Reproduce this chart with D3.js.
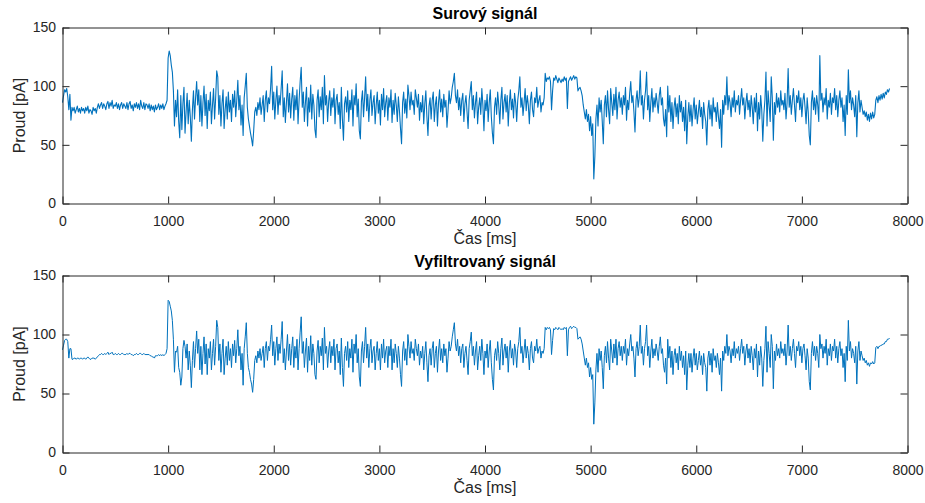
<!DOCTYPE html>
<html>
<head>
<meta charset="utf-8">
<script src="https://cdn.jsdelivr.net/npm/d3@7"></script>
<style>
  html, body { margin: 0; padding: 0; background: #fff; }
  svg { display: block; font-family: "Liberation Sans", Arial, Helvetica, sans-serif; }
</style>
</head>
<body>
<svg id="fig" width="925" height="503"></svg>
<script>
// Raw current trace, one sample every 10 ms
const rawStepMs = 10;
const rawSignal = [
  86, 92, 97, 95, 98, 91, 80, 93, 71, 82,
  79, 82, 77, 80, 83, 78, 81, 77, 82, 79,
  81, 77, 82, 79, 83, 77, 80, 79, 76, 82,
  79, 81, 77, 82, 85, 81, 84, 86, 81, 85,
  83, 80, 85, 87, 81, 86, 83, 88, 81, 84,
  83, 86, 81, 85, 80, 84, 86, 81, 85, 83,
  81, 86, 80, 85, 87, 81, 84, 79, 85, 82,
  86, 81, 85, 80, 88, 83, 81, 86, 80, 85,
  84, 81, 85, 79, 84, 80, 83, 78, 84, 80,
  82, 85, 80, 84, 81, 85, 80, 83, 85, 88,
  124, 130, 126, 118, 112, 96, 66, 88, 74, 97,
  70, 56, 92, 63, 85, 99, 60, 78, 94, 68,
  88, 74, 53, 80, 96, 72, 90, 104, 84, 97,
  70, 92, 66, 86, 100, 75, 93, 64, 88, 79,
  95, 68, 84, 98, 72, 90, 113, 108, 76, 92,
  66, 85, 97, 64, 80, 91, 72, 95, 78, 88,
  70, 93, 82, 96, 74, 88, 105, 80, 92, 67,
  84, 58, 90, 100, 111, 82, 72, 66, 60, 55,
  49, 62, 78, 82, 75, 86, 80, 90, 76, 84,
  92, 70, 88, 96, 78, 90, 85, 98, 117, 80,
  95, 72, 88, 100, 76, 92, 84, 98, 113, 74,
  90, 69, 86, 102, 78, 94, 73, 89, 99, 71,
  92, 80, 97, 68, 88, 104, 116, 82, 95, 70,
  86, 99, 66, 90, 78, 101, 72, 93, 84, 63,
  56, 88, 97, 74, 91, 80, 99, 68, 109, 84,
  92, 70, 87, 96, 75, 90, 82, 98, 68, 88,
  93, 76, 86, 64, 99, 72, 54, 85, 91, 78,
  96, 70, 88, 80, 97, 66, 92, 84, 102, 74,
  89, 62, 55, 87, 96, 74, 90, 108, 79, 93,
  70, 88, 97, 75, 86, 92, 68, 84, 95, 77,
  88, 67, 93, 80, 98, 74, 86, 92, 71, 90,
  82, 97, 69, 88, 76, 94, 84, 70, 91, 79,
  64, 51, 86, 95, 77, 89, 73, 101, 92, 80,
  95, 84, 88, 76, 97, 90, 82, 93, 71, 86,
  78, 92, 68, 85, 96, 74, 58, 83, 90, 72,
  88, 95, 70, 84, 91, 66, 86, 97, 78, 89,
  74, 93, 82, 88, 65, 79, 96, 85, 90, 99,
  104, 111, 92, 86, 97, 80, 90, 75, 88, 94,
  70, 85, 92, 78, 64, 88, 96, 104, 80, 92,
  73, 86, 95, 68, 82, 90, 76, 98, 84, 62,
  88, 79, 93, 70, 86, 97, 74, 60, 51, 82,
  90, 76, 95, 84, 68, 88, 99, 72, 86, 93,
  78, 92, 66, 85, 97, 80, 89, 73, 94, 86,
  70, 88, 96, 108, 82, 90, 75, 86, 98, 79,
  92, 84, 68, 88, 95, 80, 74, 90, 86, 99,
  82, 88, 92, 78, 86, 84, 90, 111, 104, 107,
  106, 108, 104, 80, 96, 107, 105, 109, 106, 103,
  107, 105, 103, 106, 104, 108, 105, 107, 81, 104,
  106, 108, 105, 107, 109, 106, 108, 107, 96, 98,
  99, 96, 92, 84, 78, 72, 80, 70, 76, 62,
  74, 58, 68, 21, 40, 72, 84, 66, 90, 78,
  88, 70, 51, 84, 92, 74, 96, 80, 68, 98,
  86, 75, 93, 80, 99, 72, 88, 95, 82, 90,
  76, 92, 84, 99, 71, 88, 80, 94, 104, 86,
  92, 78, 61, 88, 96, 82, 90, 113, 84, 92,
  72, 88, 96, 112, 80, 92, 70, 86, 98, 78,
  90, 82, 94, 86, 77, 92, 99, 84, 90, 72,
  66, 80, 57, 100, 78, 92, 70, 86, 64, 82,
  90, 74, 85, 68, 92, 78, 87, 70, 82, 62,
  88, 51, 74, 86, 70, 84, 66, 80, 90, 72,
  84, 68, 78, 88, 74, 82, 64, 86, 76, 70,
  50, 80, 88, 72, 84, 66, 90, 78, 82, 70,
  86, 74, 64, 80, 48, 88, 76, 92, 84, 108,
  80, 92, 86, 74, 90, 82, 96, 78, 88, 84,
  92, 76, 88, 98, 84, 90, 72, 86, 94, 80,
  88, 74, 92, 82, 68, 90, 78, 94, 62, 86,
  72, 92, 80, 53, 76, 88, 112, 66, 96, 84,
  70, 108, 90, 54, 86, 76, 94, 82, 90, 78,
  96, 84, 88, 80, 94, 72, 86, 115, 82, 92,
  76, 88, 98, 84, 70, 92, 86, 96, 80, 90,
  74, 88, 94, 82, 68, 90, 78, 58, 50, 86,
  96, 80, 90, 76, 92, 84, 70, 126, 88, 94,
  78, 90, 84, 98, 72, 88, 82, 94, 76, 90,
  86, 98, 80, 92, 74, 88, 96, 82, 90, 70,
  84, 58, 92, 76, 114, 86, 96, 80, 90, 84,
  74, 92, 57, 86, 96, 78, 88, 82, 76, 79,
  74, 78, 71, 76, 70, 77, 72, 78, 73, 76,
  88, 91, 86, 92, 88, 93, 89, 94, 90, 95,
  93, 97, 95, 98
];

// Filtered current trace, one sample every 10 ms
const filteredStepMs = 10;
const filteredSignal = [
  87, 91, 95, 96, 96, 94, 80, 88, 88, 79,
  79, 80, 80, 79, 80, 80, 79, 80, 80, 79,
  80, 80, 79, 80, 81, 80, 79, 79, 80, 80,
  80, 79, 80, 81, 82, 83, 83, 84, 83, 83,
  84, 83, 84, 85, 83, 84, 84, 85, 83, 83,
  84, 83, 83, 84, 83, 83, 84, 84, 83, 83,
  83, 84, 83, 84, 84, 83, 83, 82, 83, 83,
  84, 83, 83, 84, 84, 83, 83, 84, 83, 83,
  83, 83, 83, 82, 82, 81, 81, 80, 82, 82,
  82, 83, 82, 83, 82, 83, 82, 83, 84, 88,
  129, 128, 124, 120, 112, 96, 68, 86, 85, 90,
  72, 68, 57, 64, 88, 95, 90, 80, 92, 70,
  86, 74, 55, 78, 94, 72, 88, 103, 84, 96,
  70, 90, 66, 84, 98, 75, 92, 66, 88, 80,
  94, 70, 84, 96, 74, 90, 112, 106, 78, 92,
  68, 84, 96, 66, 80, 90, 74, 94, 78, 88,
  72, 92, 82, 95, 76, 88, 104, 82, 90, 70,
  84, 57, 88, 98, 110, 84, 72, 68, 62, 58,
  51, 62, 78, 82, 76, 86, 80, 88, 78, 84,
  90, 72, 88, 94, 78, 90, 86, 96, 108, 82,
  94, 74, 88, 98, 78, 92, 84, 96, 111, 76,
  88, 70, 86, 100, 78, 92, 74, 88, 98, 72,
  90, 80, 96, 70, 88, 102, 115, 84, 94, 72,
  86, 97, 68, 90, 78, 99, 74, 92, 84, 66,
  62, 86, 95, 76, 90, 82, 97, 70, 106, 84,
  90, 72, 86, 94, 76, 90, 82, 96, 70, 88,
  92, 76, 86, 66, 97, 72, 56, 84, 90, 78,
  94, 72, 88, 80, 96, 68, 92, 84, 100, 76,
  88, 64, 56, 86, 94, 76, 90, 106, 80, 92,
  72, 88, 96, 76, 86, 90, 70, 84, 94, 78,
  88, 70, 92, 80, 96, 76, 86, 90, 72, 90,
  82, 96, 70, 88, 76, 92, 84, 72, 90, 80,
  66, 56, 86, 94, 78, 88, 74, 100, 90, 80,
  94, 84, 88, 78, 96, 88, 82, 92, 74, 86,
  80, 90, 70, 84, 94, 76, 60, 82, 88, 74,
  88, 94, 72, 84, 90, 68, 86, 96, 78, 88,
  76, 92, 82, 88, 68, 80, 94, 86, 90, 98,
  104, 110, 92, 86, 96, 82, 90, 76, 88, 92,
  72, 84, 90, 78, 66, 88, 94, 102, 82, 90,
  74, 86, 94, 70, 82, 90, 78, 96, 84, 66,
  86, 80, 92, 72, 86, 95, 76, 62, 53, 82,
  88, 78, 94, 84, 70, 88, 97, 74, 86, 92,
  80, 90, 68, 86, 95, 80, 88, 74, 92, 86,
  72, 88, 94, 106, 84, 90, 76, 86, 96, 80,
  90, 84, 70, 88, 94, 80, 76, 90, 86, 96,
  84, 88, 90, 80, 86, 84, 88, 106, 104, 106,
  105, 106, 104, 83, 95, 105, 104, 106, 105, 104,
  106, 105, 104, 105, 104, 106, 105, 106, 82, 104,
  106, 107, 105, 106, 107, 106, 106, 105, 96, 97,
  98, 96, 92, 86, 80, 74, 80, 72, 76, 64,
  72, 62, 66, 24, 42, 70, 84, 68, 88, 78,
  86, 72, 54, 82, 90, 76, 94, 80, 70, 96,
  86, 76, 92, 80, 96, 74, 88, 94, 82, 90,
  78, 90, 84, 96, 74, 88, 82, 92, 100, 86,
  90, 80, 64, 88, 94, 82, 90, 108, 84, 90,
  74, 88, 94, 108, 82, 90, 72, 86, 96, 80,
  88, 82, 92, 86, 78, 90, 98, 84, 88, 74,
  68, 80, 58, 96, 80, 90, 72, 86, 66, 82,
  88, 76, 84, 70, 90, 78, 86, 72, 82, 66,
  86, 53, 74, 84, 72, 84, 68, 80, 88, 74,
  84, 70, 78, 86, 74, 82, 66, 84, 76, 72,
  52, 80, 86, 74, 84, 68, 88, 78, 82, 72,
  84, 76, 66, 80, 52, 86, 78, 90, 84, 100,
  82, 90, 86, 76, 88, 82, 94, 80, 88, 84,
  90, 78, 88, 96, 84, 90, 74, 86, 92, 80,
  88, 76, 90, 82, 70, 88, 80, 92, 64, 86,
  74, 90, 80, 56, 78, 88, 107, 68, 94, 84,
  72, 100, 90, 54, 86, 78, 92, 82, 88, 80,
  94, 84, 88, 82, 92, 74, 86, 108, 82, 90,
  78, 88, 96, 84, 72, 90, 86, 94, 82, 90,
  76, 88, 92, 82, 70, 88, 80, 60, 53, 84,
  94, 82, 90, 78, 90, 84, 72, 100, 88, 92,
  80, 90, 84, 96, 74, 88, 82, 92, 78, 90,
  86, 96, 80, 90, 76, 88, 94, 82, 88, 72,
  84, 60, 90, 78, 112, 86, 94, 80, 88, 84,
  76, 90, 58, 86, 94, 78, 86, 82, 78, 80,
  76, 78, 74, 76, 73, 76, 75, 77, 75, 76,
  89, 90, 88, 90, 90, 91, 91, 92, 92, 94,
  94, 96, 96, 97
];

const timeTicks = [0, 1000, 2000, 3000, 4000, 5000, 6000, 7000, 8000];
const currentTicks = [0, 50, 100, 150];
const panelTitles = ["Surový signál", "Vyfiltrovaný signál"];
const xLabel = "Čas [ms]";
const yLabel = "Proud [pA]";

const axisColor = "#262626";
const lineColor = "#0072bd";
const plotLeft = 62.5, plotRight = 907.5;
const tickLen = 7;

const panels = [
  { title: panelTitles[0], values: rawSignal, step: rawStepMs, top: 27.5, bottom: 203.5, width: 1.1 },
  { title: panelTitles[1], values: filteredSignal, step: filteredStepMs, top: 275.5, bottom: 452.5, width: 1.0 }
];

const svg = d3.select("#fig");
const fmt = d3.format("d");

function styleAxis(sel) {
  sel.attr("font-family", null).attr("font-size", null);
  sel.selectAll("path, line").attr("stroke", axisColor).attr("stroke-width", 1);
  sel.selectAll("text").attr("fill", axisColor).style("font-size", "14px");
}

panels.forEach(p => {
  const x = d3.scaleLinear().domain([0, 8000]).range([plotLeft, plotRight]);
  const y = d3.scaleLinear().domain([0, 150]).range([p.bottom, p.top]);
  const g = svg.append("g");

  // signal trace
  const line = d3.line()
    .x((d, i) => x(i * p.step))
    .y(d => y(d));
  g.append("path")
    .datum(p.values)
    .attr("d", line)
    .attr("fill", "none")
    .attr("stroke", lineColor)
    .attr("stroke-width", p.width)
    .attr("stroke-linejoin", "round");

  // boxed axes with inward ticks
  g.append("g")
    .attr("transform", `translate(0,${p.bottom})`)
    .call(d3.axisBottom(x).tickValues(timeTicks).tickFormat(fmt).tickSizeInner(-tickLen).tickSizeOuter(0).tickPadding(12.5))
    .call(styleAxis);
  g.append("g")
    .attr("transform", `translate(0,${p.top})`)
    .call(d3.axisTop(x).tickValues(timeTicks).tickSizeInner(-tickLen).tickSizeOuter(0).tickFormat(""))
    .call(styleAxis);
  g.append("g")
    .attr("transform", `translate(${plotLeft},0)`)
    .call(d3.axisLeft(y).tickValues(currentTicks).tickFormat(fmt).tickSizeInner(-tickLen).tickSizeOuter(0).tickPadding(6.5))
    .call(styleAxis);
  g.append("g")
    .attr("transform", `translate(${plotRight},0)`)
    .call(d3.axisRight(y).tickValues(currentTicks).tickSizeInner(-tickLen).tickSizeOuter(0).tickFormat(""))
    .call(styleAxis);

  // title
  g.append("text")
    .attr("x", (plotLeft + plotRight) / 2)
    .attr("y", p.top - 8.5)
    .attr("text-anchor", "middle")
    .attr("fill", "#000")
    .style("font-size", "16px")
    .style("font-weight", "bold")
    .text(p.title);

  // axis labels
  g.append("text")
    .attr("x", (plotLeft + plotRight) / 2)
    .attr("y", p.bottom + 40)
    .attr("text-anchor", "middle")
    .attr("fill", axisColor)
    .style("font-size", "16px")
    .text(xLabel);
  g.append("text")
    .attr("transform", `translate(24.5,${(p.top + p.bottom) / 2}) rotate(-90)`)
    .attr("text-anchor", "middle")
    .attr("fill", axisColor)
    .style("font-size", "16px")
    .text(yLabel);
});
</script>
</body>
</html>
